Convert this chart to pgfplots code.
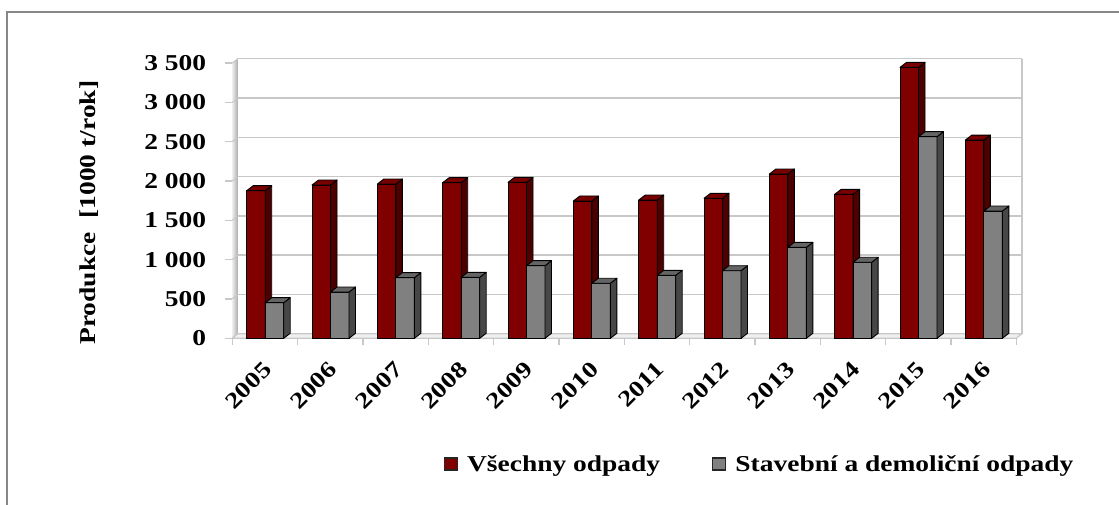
\documentclass[border=0pt]{standalone}
\usepackage{fontspec}
\setmainfont{Liberation Serif}[FakeStretch=1.21]
\usepackage{pgfplots}
\usepackage{pgfplotstable}
\pgfplotsset{compat=1.18}
\definecolor{redF}{HTML}{800000}
\definecolor{redT}{HTML}{780000}
\definecolor{redS}{HTML}{4C0000}
\definecolor{grF}{HTML}{808080}
\definecolor{grT}{HTML}{646464}
\definecolor{grS}{HTML}{474747}
\definecolor{gridc}{HTML}{C8C8C8}
\definecolor{framec}{HTML}{878787}
\newcommand\myfont{\fontsize{22.7}{27}\selectfont\bfseries}
\pgfdeclareplotmark{nothing}{}
\pgfplotstableread{
x a b
0 1878 453
1 1950 589
2 1963 771
3 1980 776
4 1984 924
5 1747 700
6 1759 801
7 1781 860
8 2090 1157
9 1832 967
10 3447 2565
11 2522 1619
}\data
\pgfplotsset{
  faces/.style n args={4}{
    forget plot, scatter, only marks, mark=nothing,
    visualization depends on={rawy \as \vy},
    scatter/@pre marker code/.code={
      \pgfmathsetlengthmacro\hh{\vy*0.0786pt}
      \filldraw[fill=#4, draw=black, line width=0.9pt, line join=round]
        (#2,0pt) -- (#2+6.5pt,5pt) -- (#2+6.5pt,5pt-\hh) -- (#2,-\hh) -- cycle;
      \filldraw[fill=#3, draw=black, line width=0.9pt, line join=round]
        (#1,0pt) -- (#2,0pt) -- (#2+6.5pt,5pt) -- (#1+6.5pt,5pt) -- cycle;
    },
    scatter/@post marker code/.code={},
  },
}
\begin{document}
\begin{tikzpicture}
\useasboundingbox (0,0) rectangle (1119pt,505pt);
\draw[framec, line width=2pt] (6.5pt,0pt) -- (6.5pt,492.5pt) -- (1119pt,492.5pt);
\begin{axis}[
  at={(232.3pt,166.7pt)}, anchor=south west,
  x=65.33pt, y=0.0786pt,
  xmin=-0.5, xmax=11.5, ymin=0, ymax=3500,
  clip=false, clip marker paths=true,
  axis x line*=bottom, axis y line*=left,
  axis line style={draw=gridc, line width=1.4pt},
  xtick={-0.5,0.5,1.5,2.5,3.5,4.5,5.5,6.5,7.5,8.5,9.5,10.5,11.5},
  x tick label as interval,
  xticklabels={2005,2006,2007,2008,2009,2010,2011,2012,2013,2014,2015,2016},
  ytick={0,500,1000,1500,2000,2500,3000,3500},
  yticklabels={0,500,1 000,1 500,2 000,2 500,3 000,3 500},
  tick align=outside, major tick length=7pt,
  tick style={draw=gridc, line width=1.4pt},
  ymajorgrids,
  major grid style={draw=gridc, line width=1.5pt, xshift=5.5pt, yshift=4.5pt},
  tick label style={font=\myfont},
  yticklabel style={anchor=east, inner sep=0pt, xshift=-19pt},
  xticklabel style={xshift=3pt, yshift=-20.5pt, rotate=45, anchor=east, inner sep=0pt},
  ylabel={Produkce\ \ [1000 t/rok]},
  ylabel style={font=\myfont, at={(axis description cs:-0.1826,0.4566)}, anchor=center},
  legend style={draw=none, fill=none, legend columns=2,
    at={(axis description cs:0.2697,-0.457)}, anchor=west, inner sep=0pt,
    font=\myfont, nodes={inner sep=0pt},
    /tikz/every odd column/.append style={column sep=9pt},
    /tikz/every even column/.append style={column sep=52pt}},
  legend cell align=left,
]
% left wall
\fill[left color=gray!15, right color=gray!65] (axis cs:-0.5,0) -- (axis cs:-0.5,3500) -- ([xshift=5.5pt,yshift=4.5pt]axis cs:-0.5,3500) -- ([xshift=5.5pt,yshift=4.5pt]axis cs:-0.5,0) -- cycle;
\pgfplotsinvokeforeach{0,500,1000,1500,2000,2500,3000,3500}{
  \draw[gridc, line width=1.2pt] (axis cs:-0.5,#1) -- ([xshift=5.5pt,yshift=4.5pt]axis cs:-0.5,#1);
}
% floor
\filldraw[fill=gray!12, draw=gridc, line width=1.2pt] (axis cs:-0.5,0) -- (axis cs:11.5,0) -- ([xshift=5.5pt,yshift=4.5pt]axis cs:11.5,0) -- ([xshift=5.5pt,yshift=4.5pt]axis cs:-0.5,0) -- cycle;
% right edge of back wall
\draw[gridc, line width=1.5pt] ([xshift=5.5pt,yshift=4.5pt]axis cs:11.5,0) -- ([xshift=5.5pt,yshift=4.5pt]axis cs:11.5,3500);

\addplot[ybar, bar width=18.5pt, bar shift=-9pt, fill=redF, draw=black, line width=0.9pt,
  legend image code/.code={\draw[fill=redF, draw=black!85, line width=1.2pt] (0pt,-6pt) rectangle (13pt,6pt);}]
  table[x=x, y=a] {\data};
\addlegendentry{Všechny odpady}
\addplot[faces={-18.25pt}{0.25pt}{redT}{redS}] table[x=x, y=a] {\data};
\addplot[ybar, bar width=18.5pt, bar shift=9.5pt, fill=grF, draw=black, line width=0.9pt,
  legend image code/.code={\draw[fill=grF, draw=black!85, line width=1.2pt] (0pt,-6pt) rectangle (13pt,6pt);}]
  table[x=x, y=b] {\data};
\addlegendentry{Stavební a demoliční odpady}
\addplot[faces={0.25pt}{18.75pt}{grT}{grS}] table[x=x, y=b] {\data};
\end{axis}
\end{tikzpicture}
\end{document}
